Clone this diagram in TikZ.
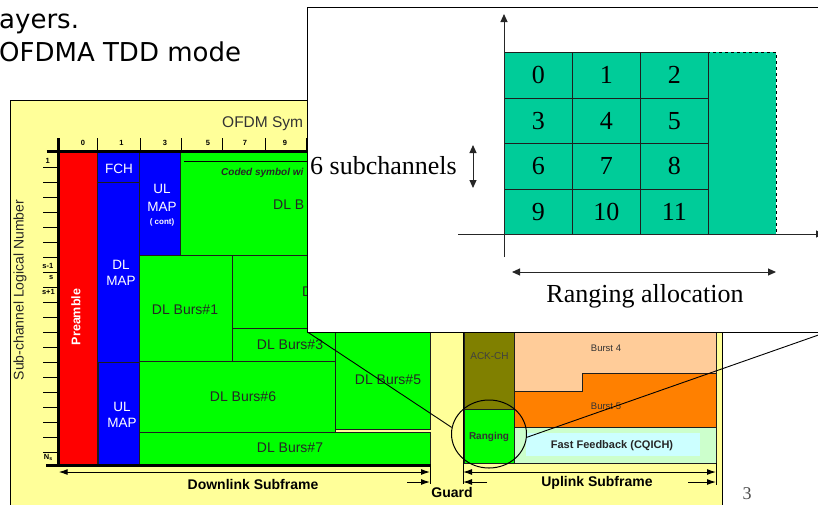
\documentclass[tikz,border=0pt]{standalone}
\usepackage{fontspec}
\setmainfont{Liberation Sans}
\newfontfamily\slidef{DejaVu Sans}
\newfontfamily\timesf{Liberation Serif}
\usetikzlibrary{arrows.meta,shapes.geometric}
\definecolor{panelc}{HTML}{FFFF99}
\definecolor{preac}{HTML}{FF0000}
\definecolor{mapc}{HTML}{0000FF}
\definecolor{burstc}{HTML}{00FF00}
\definecolor{ackc}{HTML}{808000}
\definecolor{bfourc}{HTML}{FFCC99}
\definecolor{bfivec}{HTML}{FF8000}
\definecolor{fbc}{HTML}{CCFFCC}
\definecolor{cqc}{HTML}{CCFFFF}
\definecolor{rngc}{HTML}{00CC99}
\definecolor{edgec}{HTML}{1E1E1E}
\tikzset{
  >={Latex[length=9pt,width=6pt]},
  blk/.style={draw=edgec,line width=0.8pt},
  mapblk/.style={blk,fill=mapc},
  dlblk/.style={blk,fill=burstc},
  wtxt/.style={text=white,inner sep=0pt,font=\fontsize{13.5}{16}\selectfont},
  btxt/.style={text=black!85,inner sep=0pt,font=\fontsize{14}{16}\selectfont},
  axln/.style={line width=3pt,draw=black},
  tickln/.style={line width=1pt},
  tkl/.style={font=\bfseries\fontsize{7.5}{9}\selectfont,inner sep=0pt},
  subl/.style={font=\bfseries\fontsize{14}{16}\selectfont,inner sep=0pt},
  dimarr/.style={line width=1pt},
  rcell/.style={draw=edgec,line width=0.9pt,fill=rngc,minimum width=68pt,minimum height=45.6pt,inner sep=0pt,font=\timesf\fontsize{26}{28}\selectfont},
  tarr/.style={line width=1pt,draw=black!85,-{Triangle[length=8pt,width=7pt]}},
  tdarr/.style={line width=1pt,draw=black!85,{Triangle[length=8pt,width=7pt]}-{Triangle[length=8pt,width=7pt]}},
  itxt/.style={inner sep=0pt,font=\timesf\fontsize{26}{28}\selectfont},
}
\begin{document}
\begin{tikzpicture}[x=1pt,y=-1pt]
\useasboundingbox (0,0) rectangle (818,504);
\clip (0,0) rectangle (818,504);
% slide text
\node[anchor=base west,inner sep=0pt,font=\slidef\fontsize{26}{30}\selectfont] (ln1) at (-1,28) {ayers.};
\node[anchor=base west,inner sep=0pt,font=\slidef\fontsize{26}{30}\selectfont] (ln2) at (-1,61) {OFDMA TDD mode};
% frame
\draw[fill=panelc,line width=1pt] (10,100) rectangle (722.7,520);
\node[anchor=base west,inner sep=0pt,font=\fontsize{15.5}{17}\selectfont,text=black!80] (ttl) at (222,127.5) {OFDM Sym};
\node[rotate=90,font=\fontsize{14}{16}\selectfont,text=black!85] (ylab) at (20,290) {Sub-channel Logical Number};
% blocks
\draw[blk,fill=preac] (58.7,152) rectangle (97.5,465);
\draw[mapblk] (97.5,152) rectangle (139.5,182);
\draw[mapblk] (97.5,182) rectangle (139.5,362);
\draw[mapblk] (98.5,362) rectangle (139.5,465);
\draw[mapblk] (139.5,152) rectangle (180,255);
\draw[dlblk] (180,152) rectangle (330,255);
\draw[line width=1pt] (184,161) -- (330,161);
\draw[dlblk] (139.5,255) rectangle (232.5,361);
\draw[dlblk] (232.5,255) rectangle (330,328);
\draw[dlblk] (232.5,328) rectangle (335.5,361);
\draw[dlblk] (139.5,361) rectangle (335,432);
\draw[dlblk] (335.5,300) rectangle (430,429);
\draw[dlblk] (139.5,432) rectangle (430,465);
\node[rotate=90,text=white,inner sep=0pt,font=\bfseries\fontsize{12.5}{14}\selectfont] (pre) at (76,317) {Preamble};
\node[wtxt] (fch) at (119,169) {FCH};
\node[wtxt] (ulc1) at (162,189) {UL};
\node[wtxt] (ulc2) at (162,207) {MAP};
\node[wtxt,font=\bfseries\fontsize{8}{9}\selectfont] (ulc3) at (162,222) {( cont)};
\node[wtxt] (dlm1) at (121,265) {DL};
\node[wtxt] (dlm2) at (121,281) {MAP};
\node[wtxt] (ulm1) at (122,407) {UL};
\node[wtxt] (ulm2) at (122,423) {MAP};
\node[anchor=west,inner sep=0pt,font=\bfseries\itshape\fontsize{10}{12}\selectfont,text=black!85] (cod) at (221,173) {Coded symbol wi};
\node[btxt,anchor=west] (dl0) at (273,205) {DL B};
\node[btxt,anchor=west] (dl2) at (302,292) {D};
\node[btxt] (dl1) at (185,310) {DL Burs\#1};
\node[btxt] (dl3) at (290,345) {DL Burs\#3};
\node[btxt] (dl5) at (388,380) {DL Burs\#5};
\node[btxt] (dl6) at (243,397) {DL Burs\#6};
\node[btxt] (dl7) at (290,448) {DL Burs\#7};
% uplink
\draw[blk,fill=ackc] (464,300) rectangle (514,409);
\draw[blk,fill=burstc] (464,409) rectangle (514,463);
\draw[blk,fill=bfourc] (514,300) -- (716,300) -- (716,373) -- (582,373) -- (582,391) -- (514,391) -- cycle;
\draw[blk,fill=bfivec] (514,391) -- (582,391) -- (582,373) -- (716,373) -- (716,427) -- (514,427) -- cycle;
\draw[blk,fill=fbc] (514,427) rectangle (716,463);
\fill[cqc] (526,433) rectangle (700,456);
\node[inner sep=0pt,font=\fontsize{10}{12}\selectfont,text=black!75] (ackt) at (489.5,356) {ACK-CH};
\node[inner sep=0pt,font=\bfseries\fontsize{10}{12}\selectfont,text=black!80] (rngt) at (489,437) {Ranging};
\node[inner sep=0pt,font=\fontsize{9.5}{11}\selectfont,text=black!80] (bfour) at (606,348) {Burst 4};
\node[inner sep=0pt,font=\fontsize{9.5}{11}\selectfont,text=black!80] (bfive) at (606,406) {Burst 5};
\node[inner sep=0pt,font=\bfseries\fontsize{11}{12}\selectfont,text=black!85] (fbt) at (612,446) {Fast Feedback (CQICH)};
% axes
\draw[axln] (46.7,151.7) -- (330,151.7);
\draw[axln] (58.7,138) -- (58.7,466);
\draw[axln] (46,465.5) -- (431,465.5);
\foreach \x in {97.3,140,181.7,222.7,265,306} \draw[tickln] (\x,138) -- (\x,151);
\foreach \x/\t in {83/0,121.5/1,165/3,208/5,245/7,285/9} \node[tkl] (col-\t) at (\x,143) {\t};
\foreach \k in {0,...,19} \draw[tickln] (43,{167+15*\k}) -- (58,{167+15*\k});
\node[tkl,anchor=east] (r1) at (50,161) {1};
\node[tkl,anchor=east] (rsm) at (53.5,266) {s-1};
\node[tkl,anchor=east] (rs) at (53.5,278) {s};
\node[tkl,anchor=east] (rsp) at (55,292) {s+1};
\node[tkl,anchor=east] (rn) at (53,457) {N\textsubscript{s}};
% subframe marks
\coordinate (dlL) at (58.7,472);
\coordinate (dlR) at (430,472);
\coordinate (ulL) at (463,472);
\coordinate (ulR) at (716,472);
\draw[dimarr] (430,465) -- (430,484);
\draw[dimarr] (463,300) -- (463,484);
\draw[dimarr] (716,463) -- (716,485);
\draw[dimarr,<->] (dlL) -- (dlR);
\draw[dimarr,<->] (ulL) -- (ulR);
\draw[dimarr,->] (407,482) -- (430,482);
\draw[dimarr,->] (487,482) -- (463,482);
\draw[dimarr,->] (688,482) -- (716,482);
\node[subl] (dlsub) at (253,484) {Downlink Subframe};
\node[subl] (gsub) at (452,492) {Guard};
\node[subl] (ulsub) at (597,483) {Uplink Subframe};
\node[draw,line width=1pt,ellipse,minimum width=75pt,minimum height=68pt] (rngzoom) at (489,434) {};
\node[inner sep=0pt,font=\timesf\fontsize{18}{20}\selectfont,text=black!70] (pgno) at (747,494) {3};
% inset
\draw[fill=white,line width=1pt] (307.5,7) rectangle (827,332);
\coordinate (inSW) at (307.5,332);
\coordinate (inSE) at (827,332);
\draw[dashed,line width=0.9pt,fill=rngc] (708.3,52.3) rectangle (776.3,234);
\foreach \r in {0,...,3} \foreach \c in {0,1,2} {
  \pgfmathtruncatemacro\n{3*\r+\c}
  \node[rcell] (rc-\n) at ({538.3+68*\c},{75.2+45.6*\r}) {\n};
}
\coordinate (yb) at (504,257);
\coordinate (yt) at (504,14);
\coordinate (xl) at (458,234);
\coordinate (xr) at (824,234);
\draw[tarr] (yb) -- (yt);
\draw[tarr] (xl) -- (xr);
\coordinate (scT) at (473,145);
\coordinate (scB) at (473,188);
\draw[tdarr] (scT) -- (scB);
\coordinate (raL) at (512,272);
\coordinate (raR) at (776,272);
\draw[tdarr] (raL) -- (raR);
\node[itxt,anchor=base west] (sct) at (310,174) {6 subchannels};
\node[itxt,anchor=base] (rat) at (645,302.5) {Ranging allocation};
% zoom lines
\draw[line width=0.9pt] (inSW) -- (rngzoom.170);
\draw[line width=0.9pt] (rngzoom.-5) -- (inSE);
\end{tikzpicture}
\end{document}
